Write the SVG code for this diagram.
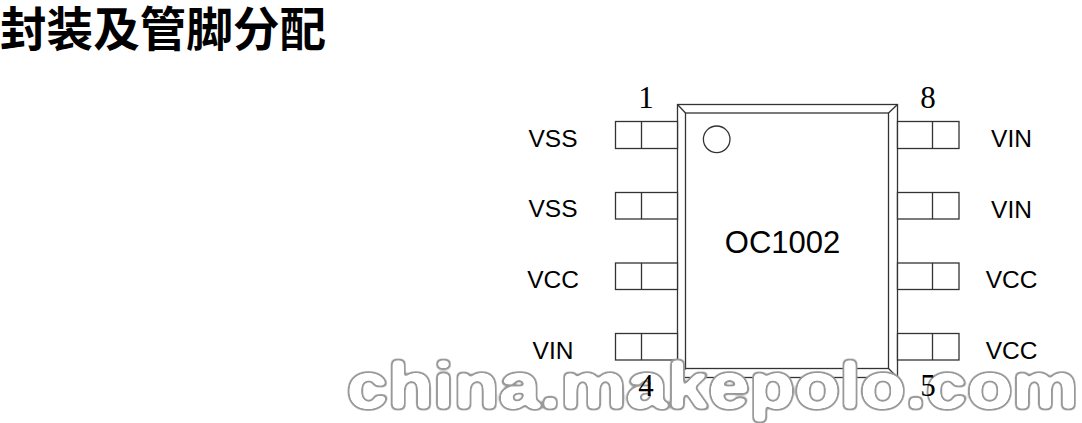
<svg xmlns="http://www.w3.org/2000/svg" width="1082" height="423" viewBox="0 0 1082 423">
<style>
.l{font-family:"Liberation Sans",Arial,sans-serif;font-size:24.5px;fill:#000;text-anchor:middle}
.n{font-family:"Liberation Serif","Times New Roman",serif;font-size:31px;fill:#000;text-anchor:middle}
.s{fill:#fff;stroke:#333;stroke-width:1.3}
.d{fill:none;stroke:#333;stroke-width:1.3}
</style>
<defs>
<filter id="o" x="-2%" y="-30%" width="104%" height="160%" color-interpolation-filters="sRGB">
<feGaussianBlur in="SourceAlpha" stdDeviation="2" result="b"/>
<feComponentTransfer in="b" result="outer"><feFuncA type="linear" slope="8" intercept="-0.6"/></feComponentTransfer>
<feComponentTransfer in="b" result="inner"><feFuncA type="linear" slope="8" intercept="-2.7"/></feComponentTransfer>
<feFlood flood-color="#999" result="g"/>
<feComposite in="g" in2="outer" operator="in" result="ring"/>
<feFlood flood-color="#fff" result="w"/>
<feComposite in="w" in2="inner" operator="in" result="fillw"/>
<feMerge><feMergeNode in="ring"/><feMergeNode in="fillw"/></feMerge>
</filter>
</defs>
<text id="title" x="0" y="46" font-family="'Noto Sans CJK SC','Liberation Sans',sans-serif" font-size="46.5" font-weight="700" fill="#000" textLength="326">封装及管脚分配</text>
<g id="package">
<rect class="s" x="677.5" y="104.5" width="220" height="273"/>
<rect class="s" x="685.5" y="113" width="203" height="255.5"/>
<path class="d" d="M677.5 104.5L685.5 113M897.5 104.5L888.5 113M677.5 377.5L685.5 368.5M897.5 377.5L888.5 368.5"/>
<circle class="d" cx="716.7" cy="139.3" r="13.3"/>
<text class="l" x="782.5" y="253" style="font-size:31px">OC1002</text>
</g>
<g id="pin1"><rect class="s" x="615.5" y="121.5" width="62" height="27"/><path class="d" d="M641.5 121.5V148.5"/><text class="l" x="553" y="147">VSS</text><text class="n" x="646" y="108">1</text></g>
<g id="pin2"><rect class="s" x="615.5" y="192.5" width="62" height="26.5"/><path class="d" d="M641.5 192.5V219"/><text class="l" x="553" y="217">VSS</text></g>
<g id="pin3"><rect class="s" x="615.5" y="263" width="62" height="26.5"/><path class="d" d="M641.5 263V289.5"/><text class="l" x="553" y="288">VCC</text></g>
<g id="pin4"><rect class="s" x="615.5" y="333.5" width="62" height="26.5"/><path class="d" d="M641.5 333.5V360"/><text class="l" x="553" y="359">VIN</text></g>
<g id="pin8"><rect class="s" x="897.5" y="121.5" width="61.5" height="27"/><path class="d" d="M932.5 121.5V148.5"/><text class="l" x="1011.5" y="147">VIN</text><text class="n" x="928" y="108">8</text></g>
<g id="pin7"><rect class="s" x="897.5" y="192.5" width="61.5" height="26.5"/><path class="d" d="M932.5 192.5V219"/><text class="l" x="1011.5" y="218">VIN</text></g>
<g id="pin6"><rect class="s" x="897.5" y="263" width="61.5" height="26.5"/><path class="d" d="M932.5 263V289.5"/><text class="l" x="1011.5" y="288">VCC</text></g>
<g id="pin5"><rect class="s" x="897.5" y="333.5" width="61.5" height="26.5"/><path class="d" d="M932.5 333.5V360"/><text class="l" x="1011.5" y="359">VCC</text></g>
<text id="watermark" x="347" y="408" font-family="'Liberation Sans',Arial,sans-serif" font-size="64" font-weight="700" textLength="731" lengthAdjust="spacingAndGlyphs" filter="url(#o)">china.makepolo.com</text>
<text class="n" x="646" y="396">4</text>
<text class="n" x="928" y="396">5</text>
</svg>
